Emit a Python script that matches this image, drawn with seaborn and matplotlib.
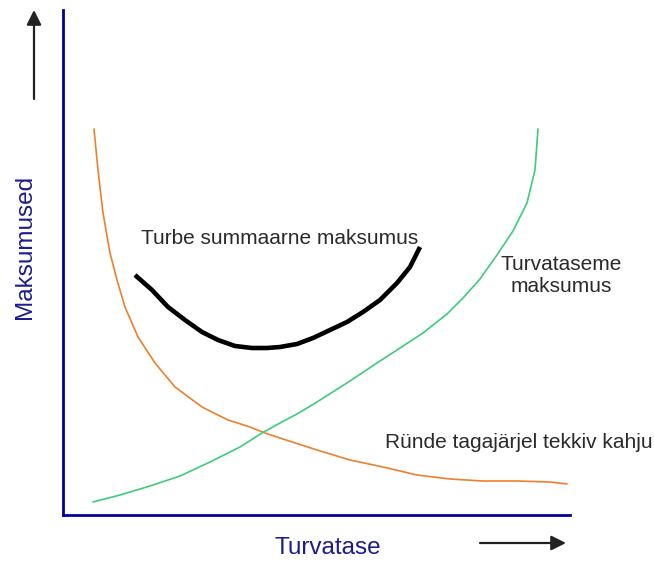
import matplotlib
matplotlib.use("Agg")
import matplotlib.pyplot as plt
import seaborn as sns
import pandas as pd

sns.set_theme(style="white")
plt.rcParams['font.family'] = ['Liberation Sans', 'DejaVu Sans']

# Data (arbitrary units: x = security level, y = cost)
orange_x = [31, 35, 40, 47, 54, 62, 75, 92, 112, 139, 165, 187, 202, 220, 254,
            287, 320, 354, 387, 420, 454, 487, 504]
orange_y = [386, 345, 302, 262, 235, 208, 178, 152, 128, 108, 95, 88, 82, 76, 65,
            55, 48, 40, 36, 34, 34, 33, 31]

green_x = [30, 57, 87, 117, 147, 177, 199, 217, 234, 254, 287, 317, 334, 360, 384,
           400, 417, 434, 450, 464, 472, 475]
green_y = [13, 20, 29, 39, 53, 68, 82, 92, 101, 113, 134, 154, 165, 182, 201,
           217, 236, 260, 284, 312, 345, 386]

black_x = [72, 89, 105, 122, 139, 155, 172, 189, 204, 217, 234, 250, 267, 284,
           300, 317, 334, 347, 357]
black_y = [240, 225, 208, 195, 183, 175, 169, 167, 167, 168, 171, 177, 185, 193,
           203, 215, 232, 248, 268]

label_total = "Turbe summaarne maksumus"
label_security = "Turvataseme\nmaksumus"
label_damage = "Ründe tagajärjel tekkiv kahju"
xlabel = "Turvatase"
ylabel = "Maksumused"

W, H = 654, 561
fig = plt.figure(figsize=(W / 100, H / 100), dpi=100)
ax = fig.add_axes([63 / W, 1 - 515 / H, 507 / W, 505 / H])
ax.set_xlim(0, 507)
ax.set_ylim(0, 505)

df_o = pd.DataFrame({"x": orange_x, "y": orange_y})
df_g = pd.DataFrame({"x": green_x, "y": green_y})
df_b = pd.DataFrame({"x": black_x, "y": black_y})

sns.lineplot(data=df_o, x="x", y="y", ax=ax, color="#EE7F2E", lw=1.2, sort=False,
             solid_joinstyle="round")
sns.lineplot(data=df_g, x="x", y="y", ax=ax, color="#3DCB7C", lw=1.2, sort=False,
             solid_joinstyle="round")
sns.lineplot(data=df_b, x="x", y="y", ax=ax, color="black", lw=3.3, sort=False,
             solid_capstyle="butt", solid_joinstyle="round")

for s in ["top", "right"]:
    ax.spines[s].set_visible(False)
for s in ["left", "bottom"]:
    ax.spines[s].set_color("#00009A")
    ax.spines[s].set_linewidth(2)
ax.set_xticks([])
ax.set_yticks([])
ax.set_xlabel("")
ax.set_ylabel("")

txt = "#2a2a2a"
ax.text(217, 277, label_total, fontsize=15, color=txt, ha="center", va="center")
ax.text(498, 239, label_security, fontsize=15, color=txt, ha="center", va="center",
        linespacing=1.2, clip_on=False)
ax.text(322, 72, label_damage, fontsize=15, color=txt, ha="left", va="center",
        clip_on=False)

ax.text(265, -33, xlabel, fontsize=17.5, color="#1C1C8E", ha="center", va="center",
        clip_on=False)
ax.text(-38, 268, ylabel, fontsize=17.5, color="#1C1C8E", ha="center", va="center",
        rotation=90, clip_on=False)

arrow = dict(arrowstyle="-|>", mutation_scale=22, lw=1.6, color="#222222",
             shrinkA=0, shrinkB=0)
ax.annotate("", xy=(-29, 505), xytext=(-29, 416), arrowprops=arrow,
            annotation_clip=False)
ax.annotate("", xy=(503, -28), xytext=(417, -28), arrowprops=arrow,
            annotation_clip=False)

fig.savefig("out.png", dpi=100)
